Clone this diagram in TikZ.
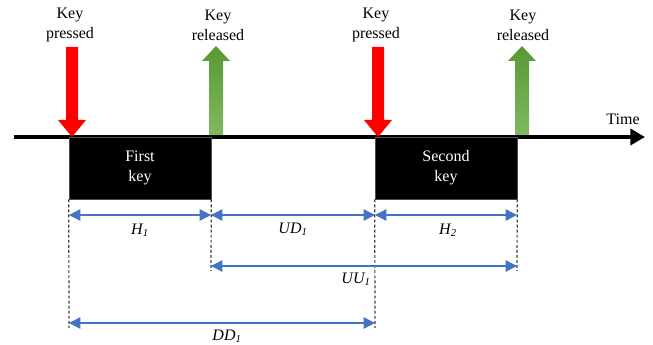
\documentclass[tikz,border=0pt]{standalone}
\usepackage{fontspec}
\setmainfont{Liberation Serif}
\usetikzlibrary{arrows.meta}
\definecolor{myblue}{RGB}{68,114,196}
\definecolor{gtop}{RGB}{88,152,52}
\definecolor{gbot}{RGB}{128,186,96}
\tikzset{
  lbl/.style={font=\fontsize{12}{15}\selectfont, align=center, inner sep=0pt},
  keybox/.style={fill=black, draw=black!70, text=white, minimum width=106.5pt, minimum height=46.5pt, inner sep=0pt, align=center, font=\fontsize{12}{15}\selectfont},
  dim/.style={myblue, line width=1pt, {Triangle[length=8.5pt,width=8.5pt]}-{Triangle[length=8.5pt,width=8.5pt]}},
  guide/.style={black!75, line width=0.9pt, dash pattern=on 2.2pt off 1.6pt},
  sub/.style={font=\fontsize{12}{14}\selectfont\itshape, inner sep=0pt},
}
\newcommand\pressarrow[1]{%
  \fill[red] (#1-6,47) -- (#1+6,47) -- (#1+6,120) -- (#1+14,120) -- (#1,137) -- (#1-14,120) -- (#1-6,120) -- cycle;}
\newcommand\relarrow[1]{%
  \shade[top color=gtop, bottom color=gbot] (#1-7,135) -- (#1+7,135) -- (#1+7,61) -- (#1+14,61) -- (#1,46) -- (#1-14,61) -- (#1-7,61) -- cycle;}
\begin{document}
\begin{tikzpicture}[x=0.75pt, y=-0.75pt]
\useasboundingbox (0,0) rectangle (653,345);
% timeline
\coordinate (tl0) at (14,137);
\coordinate (tl1) at (645,137);
\draw[line width=3pt, -{Triangle[length=11pt,width=12pt]}] (tl0) -- (tl1);
\node[lbl, anchor=base] (time) at (623,125) {Time};
% key boxes
\node[keybox] (k1) at (140,168) {First\\key};
\node[keybox] (k2) at (446,168) {Second\\key};
% event arrows
\pressarrow{72}
\relarrow{216}
\pressarrow{378}
\relarrow{522}
\node[lbl] (t1) at (70,25) {Key\\pressed};
\node[lbl] (t2) at (218,25) {Key\\released};
\node[lbl] (t3) at (376,25) {Key\\pressed};
\node[lbl] (t4) at (523,25) {Key\\released};
% guides
\coordinate (g1) at (69,328);
\coordinate (g2) at (211,271);
\coordinate (g3) at (375,328);
\coordinate (g4) at (517,271);
\draw[guide] (k1.south west) -- (g1);
\draw[guide] (k1.south east) -- (g2);
\draw[guide] (k2.south west) -- (g3);
\draw[guide] (k2.south east) -- (g4);
% dimension arrows
\coordinate (a1) at (69,215);
\coordinate (a2) at (211,215);
\coordinate (a3) at (375,215);
\coordinate (a4) at (517,215);
\coordinate (b2) at (211,266);
\coordinate (b4) at (517,266);
\coordinate (c1) at (69,323);
\coordinate (c3) at (375,323);
\draw[dim] (a1) -- (a2);
\draw[dim] (a2) -- (a3);
\draw[dim] (a3) -- (a4);
\draw[dim] (b2) -- (b4);
\draw[dim] (c1) -- (c3);
\node[sub] (h1) at (140,230) {H\textsubscript{1}};
\node[sub] (ud1) at (293,229) {UD\textsubscript{1}};
\node[sub] (h2) at (448,230) {H\textsubscript{2}};
\node[sub] (uu1) at (356,279) {UU\textsubscript{1}};
\node[sub] (dd1) at (227,336) {DD\textsubscript{1}};
\end{tikzpicture}
\end{document}
